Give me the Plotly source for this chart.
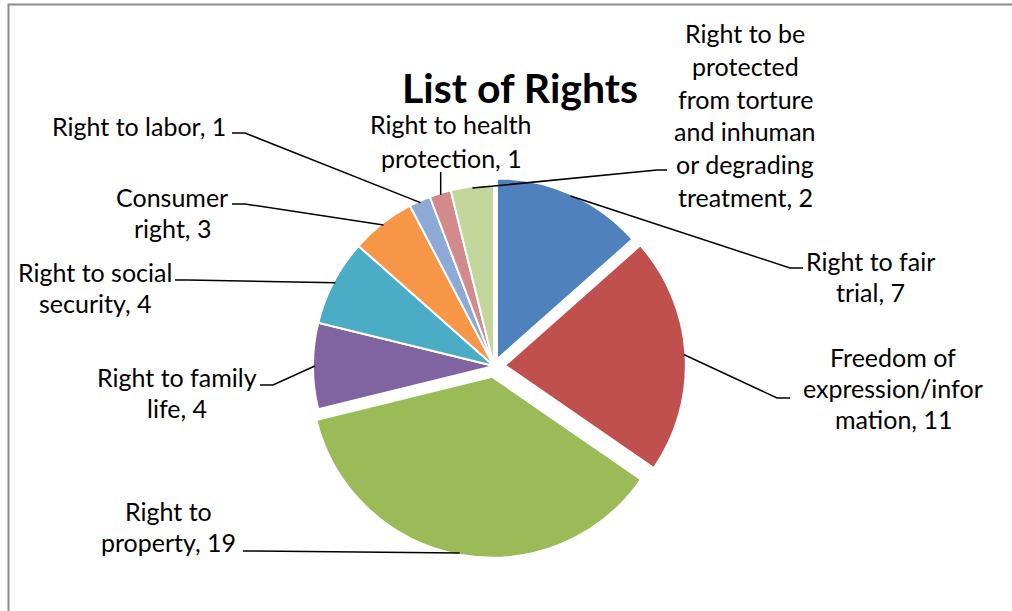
import math
import plotly.graph_objects as go

labels = ["Right to fair trial", "Freedom of expression/information", "Right to property",
          "Right to family life", "Right to social security", "Consumer right",
          "Right to labor", "Right to health protection",
          "Right to be protected from torture and inhuman or degrading treatment"]
values = [7, 11, 19, 4, 4, 3, 1, 1, 2]
# how Excel wrapped each label (value is appended to the last line)
wraps = [["Right to fair", "trial"], ["Freedom of", "expression/infor", "mation"],
         ["Right to", "property"], ["Right to family", "life"],
         ["Right to social", "security"], ["Consumer", "right"], ["Right to labor"],
         ["Right to health", "protection"],
         ["Right to be", "protected", "from torture", "and inhuman", "or degrading", "treatment"]]
colors = ["#4F81BD", "#C0504D", "#9BBB59", "#8064A2", "#4BACC6", "#F79646",
          "#8DA9D6", "#D28A8C", "#C3D69B"]
pulls = [0.04, 0.06, 0.06, 0, 0, 0, 0, 0, 0]

W, H = 1012, 611
cx, cy, r = 494, 366, 181

# label placement in pixels: centre x, first line y, line step
label_pos = [(870, 261, 31), (893, 357, 31), (168, 511, 31), (177, 377, 31),
             (95, 272, 31), (172, 197, 31), (139, 126, 31), (451, 124, 34),
             (745, 33, 32.8)]
# leader line start: (x at label, x after short dash, y); None = vertical drop
leader = [(803, 790, 268), (790, 777, 398), (243, 256, 551), (260, 273, 385),
          (175, 188, 280), (232, 245, 204), (232, 245, 133), None, (667, 657, 170)]


def px(x):
    return x / W


def py(y):
    return 1 - y / H


maxpull = max(pulls)
half = r * (1 + maxpull)

fig = go.Figure(go.Pie(
    labels=labels, values=values, sort=False, direction="clockwise", rotation=0,
    pull=pulls, textinfo="none", hoverinfo="label+value",
    marker=dict(colors=colors, line=dict(color="white", width=2)),
    domain=dict(x=[px(cx - half), px(cx + half)], y=[py(cy + half), py(cy - half)]),
))

annotations = [dict(text="<b>List of Rights</b>", x=px(520), y=py(61), xref="paper", yref="paper",
                    showarrow=False, font=dict(family="Lato", size=41, color="black"))]
shapes = [dict(type="rect", xref="paper", yref="paper", x0=px(8.5), x1=1.05, y0=-0.05, y1=py(4.5),
               line=dict(color="#8c8c8c", width=2))]

total = sum(values)
cum = 0
for i, v in enumerate(values):
    mid = (cum + v / 2) / total * 2 * math.pi
    cum += v
    rr = r * (0.99 + pulls[i])
    sx = cx + rr * math.sin(mid)
    sy = cy - rr * math.cos(mid)

    lx, ly, step = label_pos[i]
    lines = list(wraps[i])
    lines[-1] = lines[-1] + ", " + str(v)
    for k, t in enumerate(lines):
        annotations.append(dict(text=t, x=px(lx), y=py(ly + k * step), xref="paper", yref="paper",
                                showarrow=False, xanchor="center", yanchor="middle",
                                font=dict(family="Lato", size=25, color="black")))

    if leader[i] is None:
        path = f"M {px(sx)},{py(ly + (len(lines) - 1) * step + 14)} L {px(sx)},{py(sy)}"
    else:
        a, b, y = leader[i]
        path = f"M {px(a)},{py(y)} L {px(b)},{py(y)} L {px(sx)},{py(sy)}"
    shapes.append(dict(type="path", xref="paper", yref="paper", path=path,
                       line=dict(color="black", width=1.5)))

fig.update_layout(
    width=W, height=H, margin=dict(l=0, r=0, t=0, b=0),
    paper_bgcolor="white", plot_bgcolor="white", showlegend=False,
    annotations=annotations, shapes=shapes,
)

# drop the default page margin so the figure sits at the window's top-left corner
fig.write_html("out.html", config={"displayModeBar": False},
               post_script="document.body.style.margin='0';")
